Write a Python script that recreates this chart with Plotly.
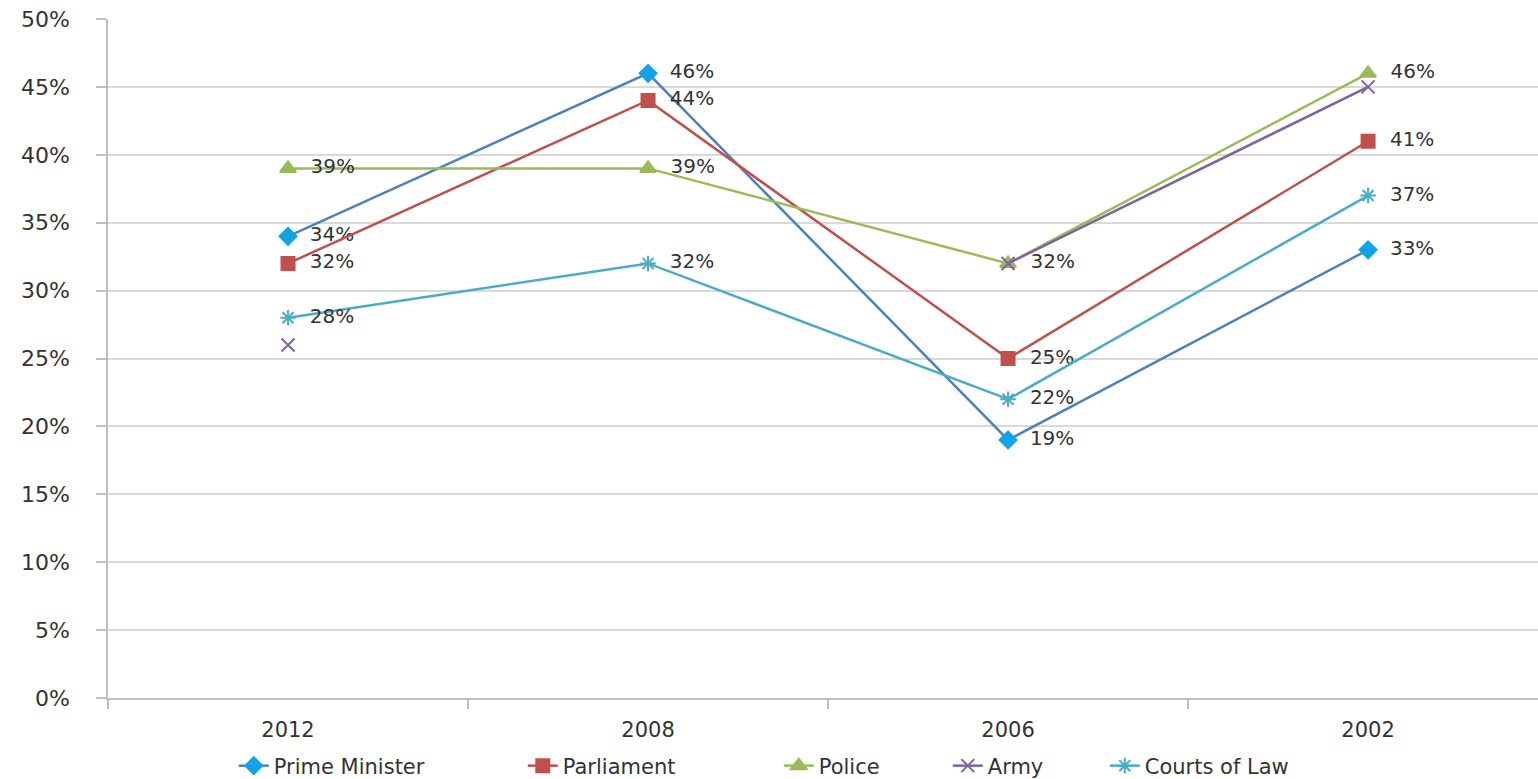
import plotly.graph_objects as go

years = ["2012", "2008", "2006", "2002"]

prime_minister = [34, 46, 19, 33]
parliament = [32, 44, 25, 41]
police = [39, 39, 32, 46]
army = [26, None, 32, 45]
courts_of_law = [28, 32, 22, 37]

y_ticks = list(range(0, 51, 5))
y_tick_labels = [f"{v}%" for v in y_ticks]

series = [
    # name, values, line colour, marker colour, marker symbol, size, show labels, legend entry width
    ("Prime Minister", prime_minister, "#4F81BD", "#12A2EA", "diamond", 13, True, 244),
    ("Parliament", parliament, "#C0504D", "#C0504D", "square", 13, True, 211),
    ("Police", police, "#9BBB59", "#9BBB59", "triangle-up", 14, True, 124),
    ("Army", army, "#8064A2", "#8064A2", "x-thin-open", 13, False, 112),
    ("Courts of Law", courts_of_law, "#4BACC6", "#4BACC6", "asterisk-open", 13, True, 170),
]

fig = go.Figure()
for name, vals, lc, mc, sym, size, labels, lw in series:
    fig.add_trace(go.Scatter(
        x=years,
        y=vals,
        name=name,
        mode="lines+markers+text" if labels else "lines+markers",
        line=dict(color=lc, width=2.5),
        marker=dict(symbol=sym, size=size, color=mc,
                    line=dict(color=mc, width=2)),
        text=[f"  {v}%" if v is not None else "" for v in vals] if labels else None,
        textposition="middle right",
        textfont=dict(family="DejaVu Sans", size=20, color="#333333"),
        connectgaps=False,
        cliponaxis=False,
        legendwidth=lw,
    ))

fig.update_layout(
    width=1538,
    height=779,
    margin=dict(l=108, r=0, t=19, b=81),
    paper_bgcolor="white",
    plot_bgcolor="white",
    showlegend=True,
    legend=dict(
        orientation="h",
        xref="container", yref="container",
        x=0.152, xanchor="left",
        y=0.0167, yanchor="middle",
        font=dict(family="DejaVu Sans", size=21, color="#333333"),
        traceorder="normal",
    ),
    xaxis=dict(
        type="category",
        range=[-0.5, 3.472],
        showgrid=False,
        showline=True,
        linecolor="#BFBFBF",
        linewidth=1.5,
        ticks="outside",
        tickson="boundaries",
        ticklen=9,
        tickcolor="#BFBFBF",
        tickwidth=1.5,
        ticklabelstandoff=12,
        tickfont=dict(family="DejaVu Sans", size=21, color="#333333"),
        zeroline=False,
    ),
    yaxis=dict(
        range=[0, 50],
        tickvals=y_ticks,
        ticktext=y_tick_labels,
        showgrid=True,
        gridcolor="#D9D9D9",
        gridwidth=1.5,
        showline=True,
        linecolor="#BFBFBF",
        linewidth=1.5,
        ticks="outside",
        ticklen=10,
        tickcolor="#BFBFBF",
        tickwidth=1.5,
        ticklabelstandoff=22,
        tickfont=dict(family="DejaVu Sans", size=22, color="#333333"),
        zeroline=False,
    ),
)

fig.write_html("out.html")
